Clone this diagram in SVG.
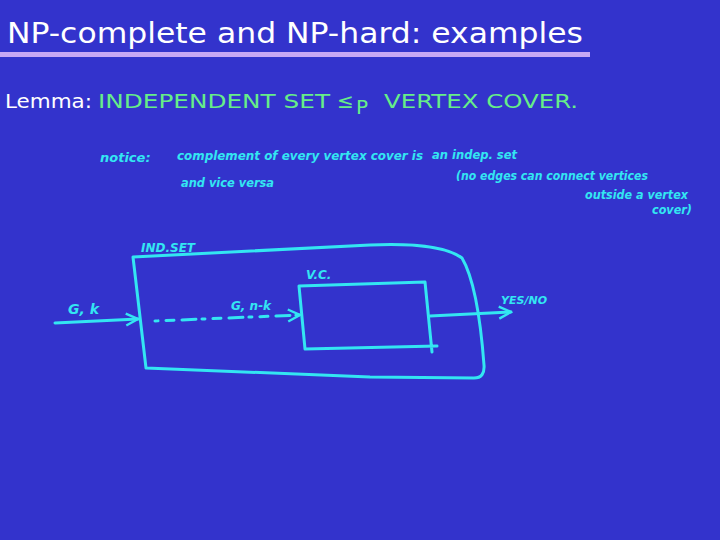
<svg xmlns="http://www.w3.org/2000/svg" width="720" height="540" viewBox="0 0 720 540">
<style>
.title{font-family:"DejaVu Sans","Liberation Sans",sans-serif;fill:#ffffff}
.lemma{font-family:"DejaVu Sans","Liberation Sans",sans-serif;font-size:20px}
.hw{font-family:"DejaVu Sans","Liberation Sans",sans-serif;font-style:italic;fill:#33e6f2;font-weight:bold}
.ln{fill:none;stroke:#33e6f2;stroke-width:3;stroke-linecap:round;stroke-linejoin:round}
</style>
<defs>
<marker id="ah" viewBox="0 0 10 10" refX="9" refY="5" markerWidth="5" markerHeight="5" orient="auto" markerUnits="strokeWidth">
<path d="M1,1 L9,5 L1,9" fill="none" stroke="#33e6f2" stroke-width="1.6"/>
</marker>
</defs>
<rect width="720" height="540" fill="#3333cc"/>
<g id="title">
<text class="title" x="7" y="43" font-size="29" textLength="576" lengthAdjust="spacingAndGlyphs">NP-complete and NP-hard: examples</text>
<rect x="0" y="52" width="590" height="5" fill="#c8a8f5"/>
</g>
<g id="lemma">
<text class="lemma" x="5" y="108" fill="#ffffff" textLength="87" lengthAdjust="spacingAndGlyphs">Lemma:</text>
<text class="lemma" x="98" y="108" fill="#66ee88" textLength="232" lengthAdjust="spacingAndGlyphs">INDEPENDENT SET</text>
<text class="lemma" x="337" y="108" fill="#66ee88" font-size="18">≤</text>
<text class="lemma" x="356" y="114" fill="#66ee88" font-size="10">P</text>
<text class="lemma" x="384" y="108" fill="#66ee88" textLength="194" lengthAdjust="spacingAndGlyphs">VERTEX COVER.</text>
</g>
<g id="notes">
<text class="hw" x="100" y="162" font-size="13">notice:</text>
<text class="hw" x="177" y="160" font-size="12" textLength="246" lengthAdjust="spacingAndGlyphs">complement of every vertex cover is</text>
<text class="hw" x="432" y="159" font-size="12" textLength="85" lengthAdjust="spacingAndGlyphs">an indep. set</text>
<text class="hw" x="181" y="187" font-size="12" textLength="93" lengthAdjust="spacingAndGlyphs">and vice versa</text>
<text class="hw" x="456" y="180" font-size="12" textLength="192" lengthAdjust="spacingAndGlyphs">(no edges can connect vertices</text>
<text class="hw" x="585" y="199" font-size="12" textLength="103" lengthAdjust="spacingAndGlyphs">outside a vertex</text>
<text class="hw" x="652" y="214" font-size="12" textLength="40" lengthAdjust="spacingAndGlyphs">cover)</text>
</g>
<g id="indset">
<path class="ln" d="M133,257 L370,245 Q440,242 462,258 Q478,285 484,365 Q485,378 474,378 L370,377 L146,368 Z"/>
<text class="hw" x="141" y="252" font-size="12">IND.SET</text>
</g>
<g id="vc">
<path class="ln" d="M299,286 L425,282 L432,352 M299,286 L305,349 L437,346"/>
<text class="hw" x="306" y="279" font-size="12">V.C.</text>
</g>
<g id="connectors">
<path class="ln" d="M55,323 L138,319" marker-end="url(#ah)"/>
<path class="ln" d="M155,321 L300,315" stroke-dasharray="3,8 8,8 14,6" marker-end="url(#ah)"/>
<path class="ln" d="M430,316 L511,312" marker-end="url(#ah)"/>
</g>
<g id="labels">
<text class="hw" x="68" y="314" font-size="14">G, k</text>
<text class="hw" x="231" y="310" font-size="12">G, n-k</text>
<text class="hw" x="501" y="304" font-size="11">YES/NO</text>
</g>
</svg>
